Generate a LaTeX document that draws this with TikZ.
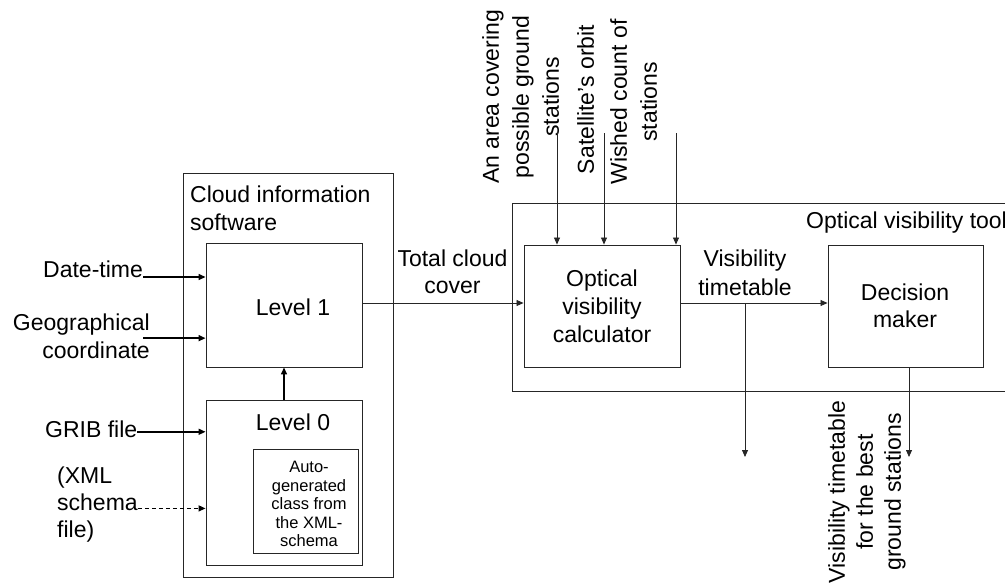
\documentclass[tikz,border=0pt]{standalone}
\usepackage{fontspec}
\setmainfont{Liberation Sans}
\usetikzlibrary{arrows.meta}
\begin{document}
\begin{tikzpicture}[x=1pt,y=-1pt,
  box/.style={draw=black!85,line width=0.9pt,inner sep=0pt},
  txt/.style={inner sep=0pt,font=\fontsize{23}{28}\selectfont},
  small/.style={inner sep=0pt,font=\fontsize{16.5}{18.5}\selectfont},
  thinarrow/.style={draw=black!85,line width=0.8pt,-{Triangle[length=7pt,width=6pt]}},
  thickarrow/.style={line width=1.5pt,-{Triangle[length=7pt,width=6pt]}},
]
\useasboundingbox (0,0) rectangle (1005,587);
\clip (0,0) rectangle (1005,587);

% boxes
\node[box,minimum width=210pt,minimum height=404pt] (cloud) at (288,375) {};
\node[box,minimum width=156pt,minimum height=124pt] (l1) at (284,305) {};
\node[box,minimum width=156pt,minimum height=165pt] (l0) at (284,482.5) {};
\node[box,minimum width=105pt,minimum height=104pt] (inner) at (305.5,501) {};
\node[box,minimum width=508pt,minimum height=188pt] (tool) at (766,297) {};
\node[box,minimum width=156pt,minimum height=122pt] (calc) at (602,306) {};
\node[box,minimum width=155pt,minimum height=122pt] (dec) at (905.5,306) {};

% texts inside boxes
\node[txt,anchor=north west,align=left] (cis) at (190,185.5) {Cloud information\\software};
\node[txt] (l1t) at (293,307) {Level 1};
\node[txt] (l0t) at (293,422) {Level 0};
\node[small,anchor=north,align=center] (auto) at (309,461) {Auto-\\generated\\class from\\the XML-\\schema};
\node[txt,anchor=base west] (toolt) at (806,228) {Optical visibility tool};
\node[txt,anchor=north,align=center] (calct) at (602,269.5) {Optical\\visibility\\calculator};
\node[txt,anchor=north,align=center,font=\fontsize{23}{27}\selectfont] (dect) at (905,283.5) {Decision\\maker};

% left inputs
\node[txt,anchor=base west] (dt) at (43,277) {Date-time};
\node[txt,anchor=north east,align=right] (geo) at (150,313.5) {Geographical\\coordinate};
\node[txt,anchor=base west] (grib) at (45,437) {GRIB file};
\node[txt,anchor=north west,align=left,font=\fontsize{23}{27}\selectfont] (xml) at (57,466.5) {(XML\\schema\\file)};

\draw[thickarrow] (dt.base east) -- (dt.base east -| l1.west);
\draw[thickarrow] ([xshift=-7pt,yshift=-2pt]geo.east) -- ([yshift=-2pt]geo.east -| l1.west);
\draw[thickarrow] ([yshift=-3pt]grib.east) -- ([yshift=-3pt]grib.east -| l0.west);
\draw[thickarrow,line width=1.3pt,dash pattern=on 4pt off 3pt] ([yshift=-4pt]xml.east) -- ([yshift=-4pt]xml.east -| l0.west);
\draw[thickarrow] (l0.north) -- (l1.south);

% middle
\coordinate (tc) at (0,303);
\node[txt,anchor=north,align=center,font=\fontsize{23}{27}\selectfont] (tcc) at (452.5,249.5) {Total cloud\\cover};
\draw[thinarrow] (l1.east |- tc) -- (calc.west |- tc);
\node[txt,anchor=north,align=center,font=\fontsize{23}{28.5}\selectfont] (vist) at (745,250) {Visibility\\timetable};
\draw[thinarrow] (calc.east |- tc) -- (dec.west |- tc);
\coordinate (br) at (745,303);
\coordinate (out1) at (745,457);
\coordinate (out2) at (909,457);
\draw[thinarrow] (br) -- (out1);
\draw[thinarrow] (dec.south -| out2) -- (out2);

% top inputs
\node[txt,rotate=90,anchor=north,align=center,font=\fontsize{23}{30}\selectfont] (area) at (482,97) {An area covering\\possible ground\\stations};
\node[txt,rotate=90,anchor=north,align=center] (orbit) at (577,99.5) {Satellite’s orbit};
\node[txt,rotate=90,anchor=north,align=center,font=\fontsize{23}{30}\selectfont] (wish) at (610,102) {Wished count of\\stations};
\coordinate (in1) at (557,132);
\coordinate (in2) at (604,133);
\coordinate (in3) at (676,133);
\draw[thinarrow] (in1) -- (in1 |- calc.north);
\draw[thinarrow] (in2) -- (in2 |- calc.north);
\draw[thinarrow] (in3) -- (in3 |- calc.north);

% bottom output label
\node[txt,rotate=90,anchor=north,align=center] (best) at (828,492) {Visibility timetable\\for the best\\ground stations};
\end{tikzpicture}
\end{document}
